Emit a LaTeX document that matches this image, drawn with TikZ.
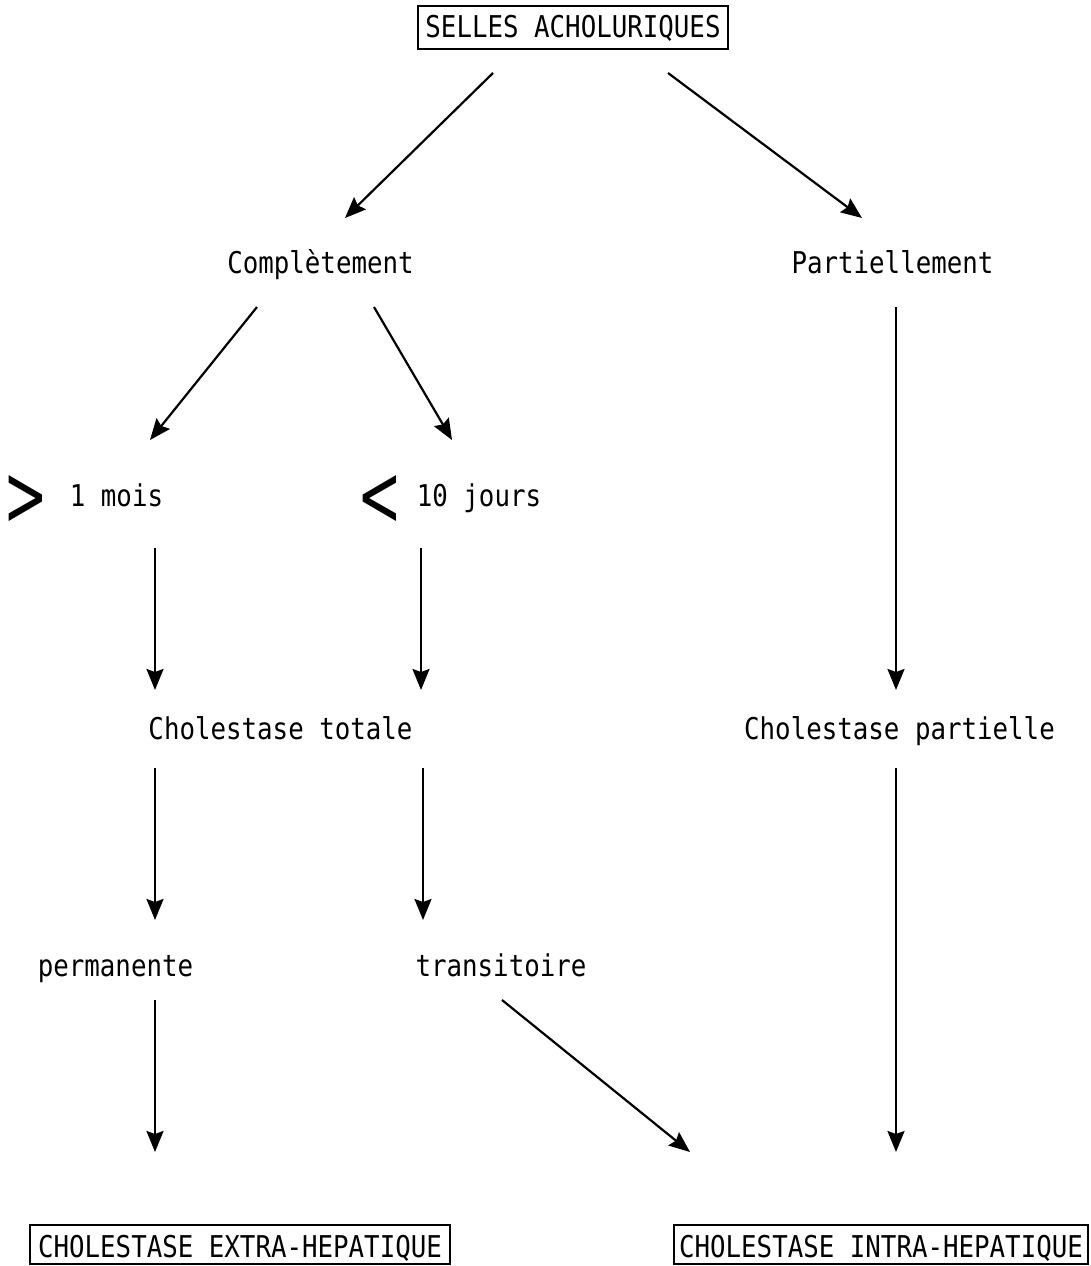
\documentclass[tikz,border=0pt]{standalone}
\usepackage{fontspec}
\usetikzlibrary{arrows.meta}
\newfontfamily\twfont[FakeStretch=0.86]{DejaVu Sans Mono}
\newfontfamily\symfont{DejaVu Sans}
\begin{document}
\begin{tikzpicture}[x=1pt,y=-1pt,
  lbl/.style={font={\twfont\fontsize{30}{32}\selectfont},inner sep=0pt,anchor=base},
  boxlbl/.style={lbl,draw,line width=2.8pt,inner xsep=0pt,inner ysep=0pt},
  cmp/.style={font={\symfont\fontsize{86}{86}\selectfont},inner sep=0pt,anchor=base},
  arr/.style={line width=2.2pt,-{Stealth[length=21pt,width=17pt,inset=3pt]}}]
\useasboundingbox (0,0) rectangle (1090,1266);
% nodes
\node[boxlbl,minimum width=310pt,text height=31pt,text depth=12pt] (top) at (573,37) {SELLES ACHOLURIQUES};
\node[lbl] (compl) at (320.5,273) {Complètement};
\node[lbl] (part) at (892.5,273) {Partiellement};
\node[cmp] (gtsym) at (26,525) {\scalebox{0.62}[1]{>}};
\node[lbl] (mois) at (116.5,506) {1 mois};
\node[cmp] (ltsym) at (380,525) {\scalebox{0.62}[1]{<}};
\node[lbl] (jours) at (479,506) {10 jours};
\node[lbl] (tot) at (280.5,739) {Cholestase totale};
\node[lbl] (ptl) at (899.5,739) {Cholestase partielle};
\node[lbl] (perm) at (115.5,976) {permanente};
\node[lbl] (trans) at (501,976) {transitoire};
\node[boxlbl,minimum width=420pt,text height=32pt,text depth=7pt] (extra) at (240,1257) {CHOLESTASE EXTRA-HEPATIQUE};
\node[boxlbl,minimum width=414pt,text height=32pt,text depth=7pt] (intra) at (881,1257) {CHOLESTASE INTRA-HEPATIQUE};
% connectors
\draw[arr] ([shift={(-80,36)}]top.base) -- ([shift={(24.5,-55)}]compl.base);
\draw[arr] ([shift={(95,36)}]top.base) -- ([shift={(-30.5,-55)}]part.base);
\draw[arr] ([shift={(-63.5,34)}]compl.base) -- ([shift={(33.5,-66)}]mois.base);
\draw[arr] ([shift={(53.5,34)}]compl.base) -- ([shift={(-27,-66)}]jours.base);
\draw[arr] ([shift={(3.5,34)}]part.base) -- ([shift={(-3.5,-49)}]ptl.base);
\draw[arr] ([shift={(38.5,42)}]mois.base) -- ([shift={(-125.5,-49)}]tot.base);
\draw[arr] ([shift={(-58,42)}]jours.base) -- ([shift={(140.5,-49)}]tot.base);
\draw[arr] ([shift={(-125.5,29)}]tot.base) -- ([shift={(39.5,-56)}]perm.base);
\draw[arr] ([shift={(142.5,29)}]tot.base) -- ([shift={(-78,-56)}]trans.base);
\draw[arr] ([shift={(-3.5,29)}]ptl.base) -- ([shift={(15,-105)}]intra.base);
\draw[arr] ([shift={(39.5,24)}]perm.base) -- ([shift={(-85,-105)}]extra.base);
\draw[arr] ([shift={(1,24)}]trans.base) -- ([shift={(-191,-105)}]intra.base);
\end{tikzpicture}
\end{document}
